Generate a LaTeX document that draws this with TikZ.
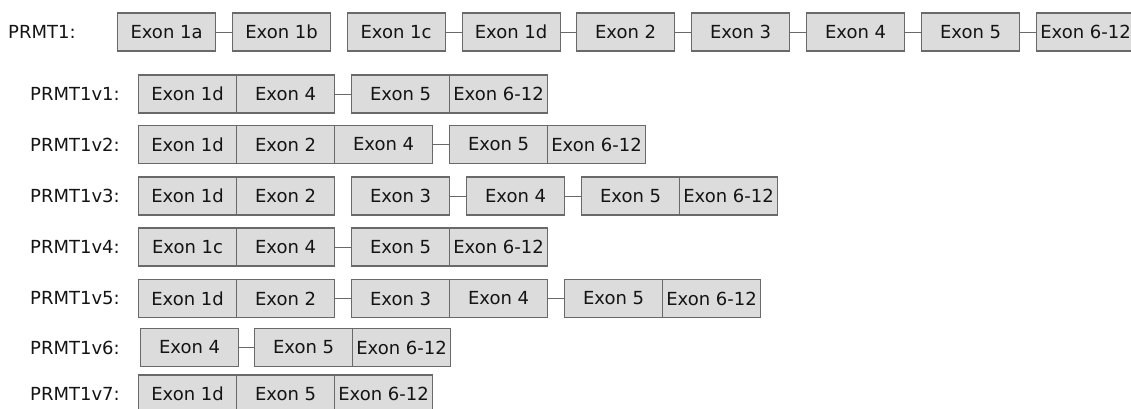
\documentclass[tikz,border=0pt]{standalone}
\usepackage{fontspec}
\setmainfont{DejaVu Sans}
\definecolor{exfill}{RGB}{220,220,220}
\definecolor{exedge}{RGB}{105,105,105}
\definecolor{txt}{RGB}{20,20,20}
\begin{document}
\begin{tikzpicture}[x=1pt,y=-1pt,
  exon/.style={draw=exedge, fill=exfill, line width=1.1pt, minimum width=98pt,
    minimum height=38pt, inner sep=0pt, anchor=west, text=txt,
    font=\fontsize{18}{21}\selectfont},
  lbl/.style={anchor=west, inner sep=0pt, text=txt, font=\fontsize{18}{21}\selectfont},
  intron/.style={draw=exedge, line width=1pt}]
\useasboundingbox (0,0) rectangle (1131,408);
\clip (0,0) rectangle (1131,408);

% full gene
\node[lbl] (g) at (8,32) {PRMT1:};
\node[exon] (g1a) at (117,32) {Exon 1a};
\node[exon] (g1b) at (232,32) {Exon 1b};
\node[exon] (g1c) at (346.5,32) {Exon 1c};
\node[exon] (g1d) at (461.5,32) {Exon 1d};
\node[exon] (g2) at (576,32) {Exon 2};
\node[exon] (g3) at (691,32) {Exon 3};
\node[exon] (g4) at (806,32) {Exon 4};
\node[exon] (g5) at (921,32) {Exon 5};
\node[exon] (g6) at (1036,32) {Exon 6-12};
\draw[intron] (g1a.east) -- (g1b.west);
\draw[intron] (g1c.east) -- (g1d.west);
\draw[intron] (g1d.east) -- (g2.west);
\draw[intron] (g2.east) -- (g3.west);
\draw[intron] (g3.east) -- (g4.west);
\draw[intron] (g4.east) -- (g5.west);
\draw[intron] (g5.east) -- (g6.west);

% PRMT1v1
\node[lbl] (l1) at (30,94) {PRMT1v1:};
\node[exon] (a1) at (138,94) {Exon 1d};
\node[exon] (a2) at (236,94) {Exon 4};
\node[exon] (a3) at (351,94) {Exon 5};
\node[exon] (a4) at (449,94) {Exon 6-12};
\draw[intron] (a2.east) -- (a3.west);

% PRMT1v2
\node[lbl] (l2) at (30,144.5) {PRMT1v2:};
\node[exon] (b1) at (138,144.5) {Exon 1d};
\node[exon] (b2) at (236,144.5) {Exon 2};
\node[exon] (b3) at (334,144.5) {Exon 4};
\node[exon] (b4) at (449,144.5) {Exon 5};
\node[exon] (b5) at (547,144.5) {Exon 6-12};
\draw[intron] (b3.east) -- (b4.west);

% PRMT1v3
\node[lbl] (l3) at (30,196) {PRMT1v3:};
\node[exon] (c1) at (138,196) {Exon 1d};
\node[exon] (c2) at (236,196) {Exon 2};
\node[exon] (c3) at (351,196) {Exon 3};
\node[exon] (c4) at (466,196) {Exon 4};
\node[exon] (c5) at (581,196) {Exon 5};
\node[exon] (c6) at (679,196) {Exon 6-12};
\draw[intron] (c3.east) -- (c4.west);
\draw[intron] (c4.east) -- (c5.west);

% PRMT1v4
\node[lbl] (l4) at (30,247) {PRMT1v4:};
\node[exon] (d1) at (138,247) {Exon 1c};
\node[exon] (d2) at (236,247) {Exon 4};
\node[exon] (d3) at (351,247) {Exon 5};
\node[exon] (d4) at (449,247) {Exon 6-12};
\draw[intron] (d2.east) -- (d3.west);

% PRMT1v5
\node[lbl] (l5) at (30,298.5) {PRMT1v5:};
\node[exon] (e1) at (138,298.5) {Exon 1d};
\node[exon] (e2) at (236,298.5) {Exon 2};
\node[exon] (e3) at (351,298.5) {Exon 3};
\node[exon] (e4) at (449,298.5) {Exon 4};
\node[exon] (e5) at (564,298.5) {Exon 5};
\node[exon] (e6) at (662,298.5) {Exon 6-12};
\draw[intron] (e2.east) -- (e3.west);
\draw[intron] (e4.east) -- (e5.west);

% PRMT1v6
\node[lbl] (l6) at (30,347.5) {PRMT1v6:};
\node[exon] (f1) at (140,347.5) {Exon 4};
\node[exon] (f2) at (254,347.5) {Exon 5};
\node[exon] (f3) at (352,347.5) {Exon 6-12};
\draw[intron] (f1.east) -- (f2.west);

% PRMT1v7
\node[lbl] (l7) at (30,394) {PRMT1v7:};
\node[exon] (h1) at (138,394) {Exon 1d};
\node[exon] (h2) at (236,394) {Exon 5};
\node[exon] (h3) at (334,394) {Exon 6-12};
\end{tikzpicture}
\end{document}
